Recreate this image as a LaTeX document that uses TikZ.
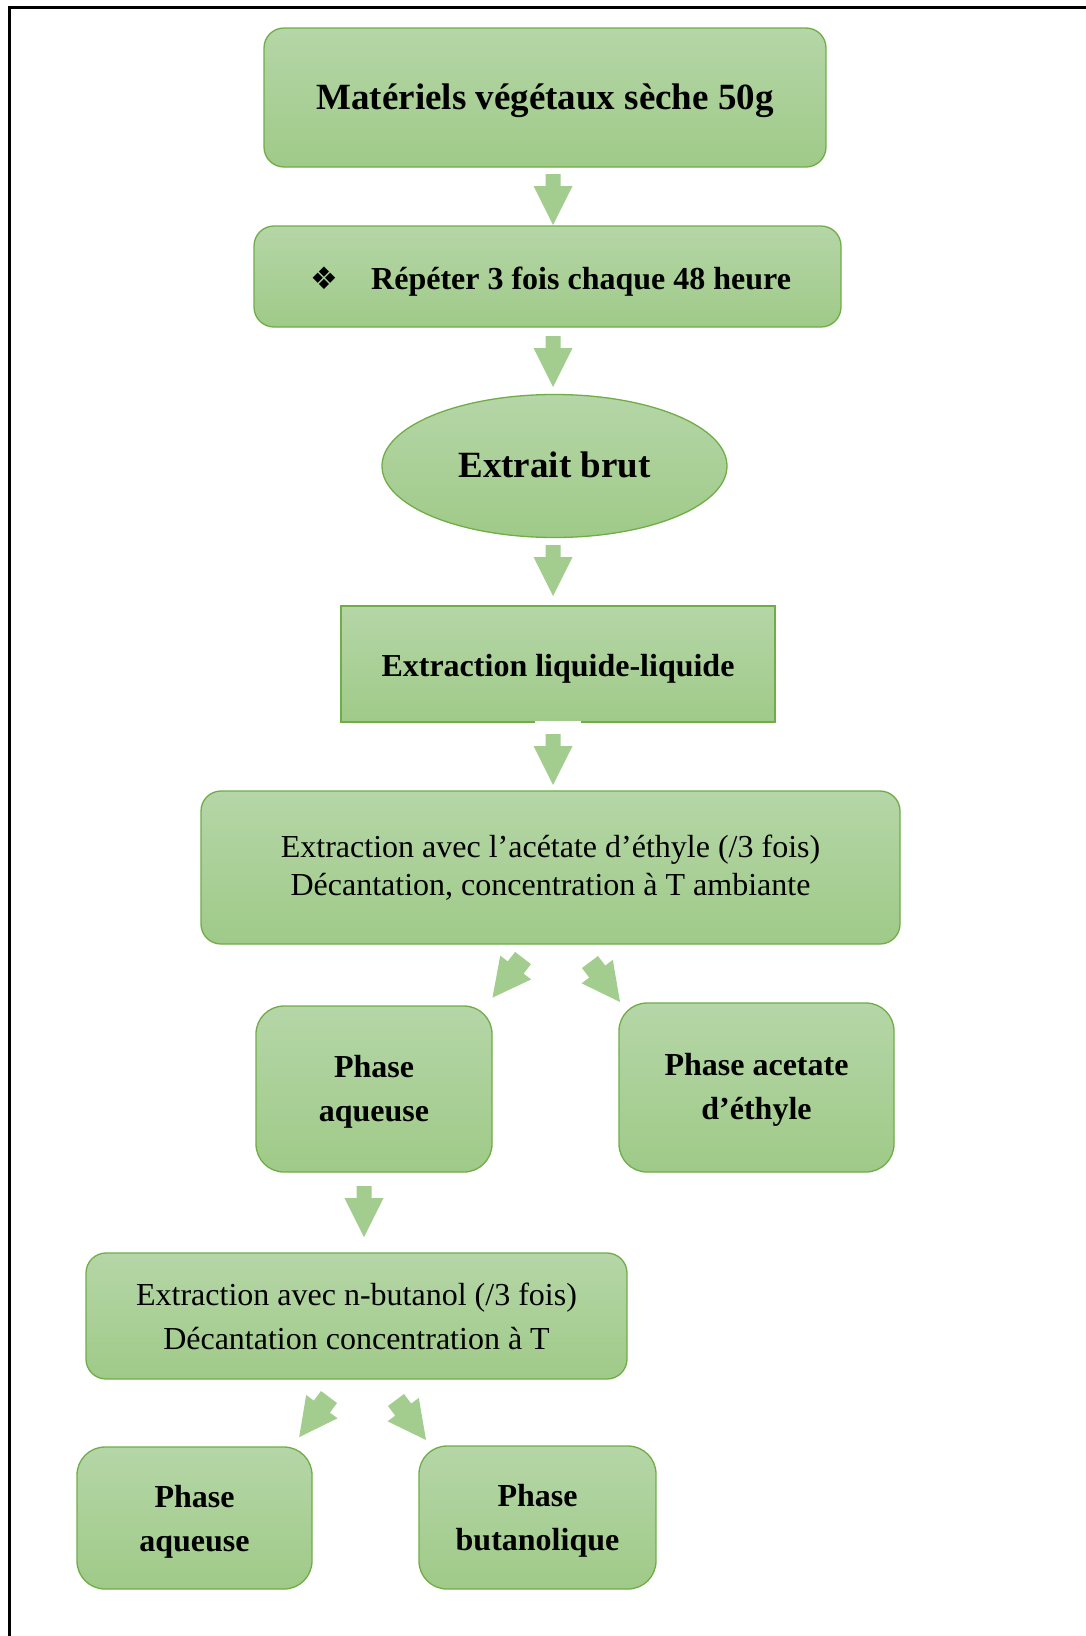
\documentclass[tikz,border=0pt]{standalone}
\usepackage{fontspec}
\setmainfont{Liberation Serif}
\newfontfamily\dejavu{DejaVu Sans}
\usetikzlibrary{shapes.geometric}
\definecolor{gtop}{HTML}{B5D6A7}
\definecolor{gbot}{HTML}{9FCA88}
\definecolor{gline}{HTML}{70AD47}
\definecolor{afill}{HTML}{A2CD8E}
\begin{document}
\begin{tikzpicture}[x=1pt,y=-1pt,
  box/.style={draw=gline, line width=1.3pt, top color=gtop, bottom color=gbot,
    rounded corners=20pt, inner sep=0pt, align=center, text=black},
  phasebox/.style={box, rounded corners=28pt},
  sqbox/.style={box, sharp corners},
  ovalbox/.style={box, ellipse},
  lbl/.style={inner sep=0pt, align=center, text=black},
  bigbold/.style={font=\fontsize{37}{44}\selectfont\bfseries},
  midbold/.style={font=\fontsize{32}{44}\selectfont\bfseries},
  midreg/.style={font=\fontsize{32}{38}\selectfont},
  midreg2/.style={font=\fontsize{32}{44}\selectfont},
  blockarrow/.pic={\fill[afill] (-7.5,0) -- (7.5,0) -- (7.5,12) -- (19.5,12) -- (0,51) -- (-19.5,12) -- (-7.5,12) -- cycle;},
  diagarrow/.pic={\fill[afill] (-10,0) -- (10,0) -- (10,12) -- (19.5,12) -- (0,50) -- (-19.5,12) -- (-10,12) -- cycle;}
]
\useasboundingbox (0,0) rectangle (1085,1636);
\fill[white] (0,0) rectangle (1085,1636);
\draw[line width=3pt] (9,1645) -- (9,7) -- (1095,7);

\node[box, minimum width=562pt, minimum height=139pt] (m1) at (545,97.5) {};
\node[lbl, bigbold, yshift=-3pt] (m1t) at (m1.center) {Matériels végétaux sèche 50g};
\node[box, minimum width=587pt, minimum height=101pt] (m2) at (547.5,276.5) {};
\node[lbl] (m2b) at (324.5,278.5) {{\dejavu\fontsize{31}{34}\selectfont ❖}};
\node[lbl, midbold, anchor=base west] (m2t) at (371,289) {Répéter 3 fois chaque 48 heure};
\node[ovalbox, minimum width=345pt, minimum height=143pt] (m3) at (554.5,466) {};
\node[lbl, bigbold, yshift=1pt] (m3t) at (m3.center) {Extrait brut};
\node[sqbox, minimum width=434pt, minimum height=116pt] (m4) at (558,664) {};
\node[lbl, midbold, yshift=-5pt] (m4t) at (m4.center) {Extraction liquide-liquide};
\fill[white] (535,720.5) rectangle (581,725);
\node[box, minimum width=699pt, minimum height=153pt] (m5) at (550.5,867.5) {};
\node[lbl, midreg] (m5t) at (m5.center) {Extraction avec l’acétate d’éthyle (/3 fois)\\Décantation, concentration à T ambiante};
\node[phasebox, minimum width=236pt, minimum height=166pt] (p1) at (374,1089) {};
\node[lbl, midbold, yshift=-3pt] (p1t) at (p1.center) {Phase\\aqueuse};
\node[phasebox, minimum width=275pt, minimum height=169pt] (p2) at (756.5,1087.5) {};
\node[lbl, midbold, yshift=-2pt] (p2t) at (p2.center) {Phase acetate\\d’éthyle};
\node[box, minimum width=541pt, minimum height=126pt] (m6) at (356.5,1316) {};
\node[lbl, midreg2] (m6t) at (m6.center) {Extraction avec n-butanol (/3 fois)\\Décantation concentration à T};
\node[phasebox, minimum width=235pt, minimum height=142pt] (p3) at (194.5,1518) {};
\node[lbl, midbold, yshift=-4pt] (p3t) at (p3.center) {Phase\\aqueuse};
\node[phasebox, minimum width=237pt, minimum height=143pt] (p4) at (537.5,1517.5) {};
\node[lbl, midbold, yshift=-3pt] (p4t) at (p4.center) {Phase\\butanolique};

\pic at (553,174) {blockarrow};
\pic at (553,336) {blockarrow};
\pic at (553,545) {blockarrow};
\pic at (553,734) {blockarrow};
\pic at (364,1186) {blockarrow};
\pic[rotate=-37.6] at (523,958) {diagarrow};
\pic[rotate=36.9] at (590,962) {diagarrow};
\pic[rotate=-36.6] at (329,1397) {diagarrow};
\pic[rotate=36.9] at (396,1400) {diagarrow};
\end{tikzpicture}
\end{document}
